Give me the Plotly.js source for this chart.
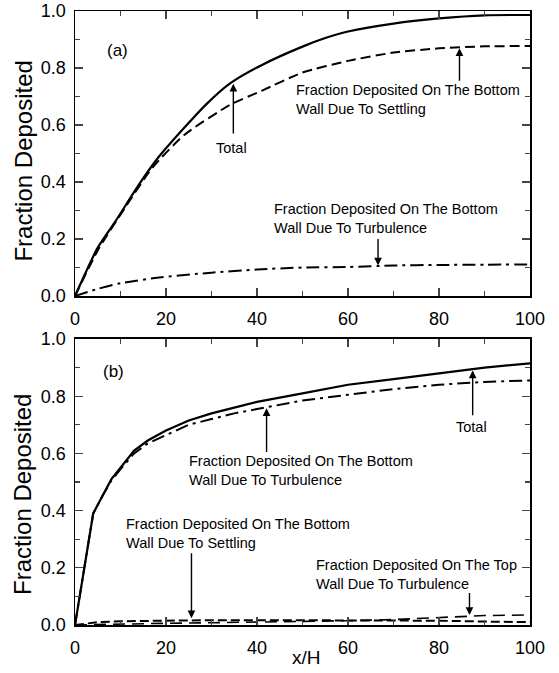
<!DOCTYPE html>
<html>
<head>
<meta charset="utf-8">
<script src="https://cdn.plot.ly/plotly-3.0.1.min.js"></script>
<style>html,body{margin:0;padding:0;background:#fff;}#chart{width:559px;height:673px;}</style>
</head>
<body>
<div id="chart"></div>
<script>
// Panel (a)
const xTotalA = [0, 5, 9, 14, 18, 24, 29, 34, 41, 50, 55, 60, 70, 80, 90, 100];
const yTotalA = [0, 0.17, 0.265, 0.39, 0.48, 0.59, 0.675, 0.745, 0.81, 0.875, 0.905, 0.928, 0.956, 0.974, 0.985, 0.986];
const xSettleA = [0, 5, 11, 17, 24, 34, 41, 50, 60, 70, 80, 90, 100];
const ySettleA = [0, 0.16, 0.31, 0.45, 0.565, 0.67, 0.72, 0.784, 0.825, 0.854, 0.869, 0.876, 0.877];
const xTurbA = [0, 5, 10, 18, 30, 40, 50, 60, 70, 80, 90, 100];
const yTurbA = [0, 0.025, 0.045, 0.064, 0.082, 0.093, 0.1, 0.102, 0.107, 0.109, 0.11, 0.111];
// Panel (b)
const xTotalB = [0, 2, 4, 6, 8, 10, 13, 16, 20, 25, 30, 35, 40, 50, 60, 70, 80, 90, 100];
const yTotalB = [0, 0.2, 0.39, 0.45, 0.51, 0.55, 0.61, 0.645, 0.68, 0.715, 0.74, 0.76, 0.78, 0.81, 0.84, 0.86, 0.88, 0.9, 0.915];
const xTurbB = [0, 2, 4, 6, 8, 10, 13, 16, 20, 25, 30, 35, 40, 50, 60, 70, 80, 90, 100];
const yTurbB = [0, 0.2, 0.39, 0.45, 0.505, 0.545, 0.6, 0.635, 0.665, 0.7, 0.72, 0.74, 0.755, 0.785, 0.805, 0.825, 0.84, 0.85, 0.855];
const xSettleB = [0, 5, 10, 20, 30, 40, 50, 60, 70, 80, 90, 100];
const ySettleB = [0, 0.01, 0.013, 0.016, 0.017, 0.017, 0.017, 0.017, 0.016, 0.015, 0.012, 0.01];
const xTopB = [0, 5, 10, 20, 30, 40, 50, 60, 70, 80, 90, 100];
const yTopB = [0, 0.002, 0.004, 0.006, 0.008, 0.01, 0.012, 0.015, 0.019, 0.025, 0.033, 0.035];

const xTickVals = [0, 20, 40, 60, 80, 100];
const yTickVals = [0, 0.2, 0.4, 0.6, 0.8, 1.0];

const FONT = 'Arial, "Liberation Sans", Helvetica, sans-serif';
const solid = {color: '#000', width: 2.2, dash: 'solid'};
const dashed = {color: '#000', width: 2, dash: '10px,5px'};
const dashdot = {color: '#000', width: 2, dash: '13px,5px,3px,5px'};
const sp = (l) => Object.assign({}, l, {shape: 'spline', smoothing: 0.6});

const traces = [
  {x: xTotalA, y: yTotalA, xaxis: 'x', yaxis: 'y', mode: 'lines', line: sp(solid)},
  {x: xSettleA, y: ySettleA, xaxis: 'x', yaxis: 'y', mode: 'lines', line: sp(dashed)},
  {x: xTurbA, y: yTurbA, xaxis: 'x', yaxis: 'y', mode: 'lines', line: sp(dashdot)},
  {x: xTotalB, y: yTotalB, xaxis: 'x2', yaxis: 'y2', mode: 'lines', line: solid},
  {x: xTurbB, y: yTurbB, xaxis: 'x2', yaxis: 'y2', mode: 'lines', line: dashdot},
  {x: xSettleB, y: ySettleB, xaxis: 'x2', yaxis: 'y2', mode: 'lines', line: {color: '#000', width: 2, dash: '9px,4px'}},
  {x: xTopB, y: yTopB, xaxis: 'x2', yaxis: 'y2', mode: 'lines', line: {color: '#000', width: 1.6, dash: '12px,7px'}}
];

function xax(anchor) {
  return {
    anchor: anchor, range: [0, 100], tickvals: xTickVals, ticks: 'inside', ticklen: 8, tickwidth: 1.3,
    minor: {dtick: 10, ticks: 'inside', ticklen: 5, tickwidth: 1.2},
    showline: true, linewidth: 1.5, linecolor: '#000', mirror: 'ticks', showgrid: false, zeroline: false,
    tickfont: {family: FONT, size: 18, color: '#000'}, ticklabelstandoff: 6
  };
}
function yax(domain, anchor) {
  return {
    domain: domain, anchor: anchor, range: [0, 1.0], tickvals: yTickVals, tickformat: '.1f',
    ticks: 'inside', ticklen: 8, tickwidth: 1.3,
    minor: {dtick: 0.1, ticks: 'inside', ticklen: 5, tickwidth: 1.2},
    showline: true, linewidth: 1.5, linecolor: '#000', mirror: 'ticks', showgrid: false, zeroline: false,
    tickfont: {family: FONT, size: 18, color: '#000'}, ticklabelstandoff: 4
  };
}

const af = {family: FONT, size: 14.5, color: '#000'};
function label(xr, yr, x, y, text, anchor) {
  return {xref: xr, yref: yr, x: x, y: y, text: text, showarrow: false, font: af,
          xanchor: anchor || 'left', yanchor: 'middle', align: 'left'};
}
function arrow(xr, yr, x, y, ax, ay) {
  return {xref: xr, yref: yr, axref: xr, ayref: yr, x: x, y: y, ax: ax, ay: ay, text: '',
          showarrow: true, arrowhead: 2, arrowsize: 1.1, arrowwidth: 1.4, arrowcolor: '#000', standoff: 0, startstandoff: 0};
}

const annotations = [
  {xref: 'x', yref: 'y', x: 9.3, y: 0.86, text: '(a)', showarrow: false, font: {family: FONT, size: 17, color: '#000'}},
  {xref: 'x2', yref: 'y2', x: 8.4, y: 0.886, text: '(b)', showarrow: false, font: {family: FONT, size: 17, color: '#000'}},
  // panel a
  label('x', 'y', 34.5, 0.52, 'Total', 'center'),
  arrow('x', 'y', 34.8, 0.745, 34.8, 0.565),
  label('x', 'y', 48.2, 0.69, 'Fraction Deposited On The Bottom<br>Wall Due To Settling'),
  arrow('x', 'y', 84.5, 0.869, 84.5, 0.75),
  label('x', 'y', 43.3, 0.272, 'Fraction Deposited On The Bottom<br>Wall Due To Turbulence'),
  arrow('x', 'y', 66.6, 0.107, 66.6, 0.205),
  // panel b
  label('x2', 'y2', 87.2, 0.693, 'Total', 'center'),
  arrow('x2', 'y2', 87.4, 0.89, 87.4, 0.728),
  label('x2', 'y2', 24.7, 0.54, 'Fraction Deposited On The Bottom<br>Wall Due To Turbulence'),
  arrow('x2', 'y2', 42.1, 0.758, 42.1, 0.6),
  label('x2', 'y2', 10.8, 0.32, 'Fraction Deposited On The Bottom<br>Wall Due To Settling'),
  arrow('x2', 'y2', 25.6, 0.024, 25.6, 0.256),
  label('x2', 'y2', 52.5, 0.175, 'Fraction Deposited On The Top<br>Wall Due To Turbulence'),
  arrow('x2', 'y2', 86.7, 0.035, 86.7, 0.117),
  // axis titles
  {xref: 'paper', yref: 'paper', x: -0.114, y: 0.755, text: 'Fraction Deposited', textangle: -90, showarrow: false,
   font: {family: FONT, size: 24, color: '#000'}, xanchor: 'center', yanchor: 'middle'},
  {xref: 'paper', yref: 'paper', x: -0.114, y: 0.212, text: 'Fraction Deposited', textangle: -90, showarrow: false,
   font: {family: FONT, size: 24, color: '#000'}, xanchor: 'center', yanchor: 'middle'},
  {xref: 'paper', yref: 'paper', x: 0.508, y: 0, yshift: -32, text: 'x/H', showarrow: false,
   font: {family: FONT, size: 19, color: '#000'}, xanchor: 'center', yanchor: 'middle'}
];

const layout = {
  width: 559, height: 673,
  margin: {l: 75, r: 29, t: 11, b: 48, pad: 0},
  paper_bgcolor: '#fff', plot_bgcolor: '#fff',
  showlegend: false,
  xaxis: xax('y'), yaxis: yax([0.5358, 1], 'x'),
  xaxis2: xax('y2'), yaxis2: yax([0, 0.4658], 'x2'),
  annotations: annotations
};

Plotly.newPlot('chart', traces, layout, {displayModeBar: false, staticPlot: true});
</script>
</body>
</html>
